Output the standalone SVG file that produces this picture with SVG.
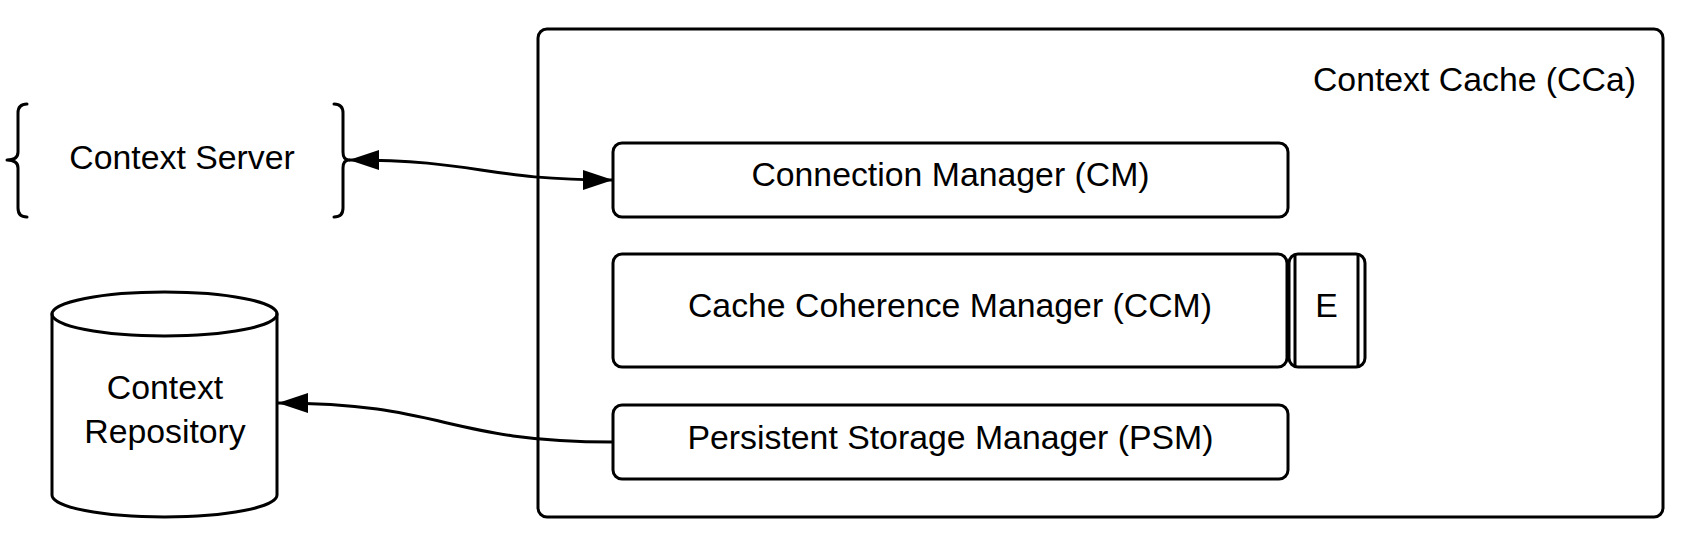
<svg xmlns="http://www.w3.org/2000/svg" width="1689" height="542" viewBox="0 0 1689 542">
<style>
.s{fill:#fff;stroke:#000;stroke-width:3;stroke-linejoin:round}
.n{fill:none;stroke:#000;stroke-width:3;stroke-linejoin:round;stroke-linecap:round}
.t{font-family:"Liberation Sans",Arial,sans-serif;font-size:33.8px;fill:#000}
.c{fill:none;stroke:#000;stroke-width:3}
</style>
<defs>
<marker id="ah" markerUnits="userSpaceOnUse" markerWidth="32" markerHeight="22" refX="30" refY="10" orient="auto-start-reverse" viewBox="0 0 32 22">
<path d="M0,0 L30,10 L0,20 Z" fill="#000"/>
</marker>
</defs>
<rect width="1689" height="542" fill="#fff"/>
<g id="context-cache">
<rect class="s" x="538" y="29" width="1125" height="488" rx="9"/>
<text class="t" x="1636" y="91" text-anchor="end">Context Cache (CCa)</text>
</g>
<g id="context-server">
<path class="n" d="M27,104 Q18,104 18,113 L18,152 Q18,160 7,160 Q18,160 18,168 L18,208 Q18,217 27,217"/>
<path class="n" d="M334,104 Q343,104 343,113 L343,152 Q343,160 349,160 Q343,160 343,168 L343,208 Q343,217 334,217"/>
<text class="t" x="182" y="169" text-anchor="middle">Context Server</text>
</g>
<g id="context-repository">
<path class="s" d="M52,314 L52,495 A112.5,22 0 0 0 277,495 L277,314 A112.5,22 0 0 0 52,314 Z"/>
<path class="n" d="M52,314 A112.5,22 0 0 0 277,314"/>
<text class="t" x="165" y="399" text-anchor="middle">Context</text>
<text class="t" x="165" y="443" text-anchor="middle">Repository</text>
</g>
<g id="cm">
<rect class="s" x="613" y="143" width="675" height="74" rx="9"/>
<text class="t" x="950.5" y="186" text-anchor="middle">Connection Manager (CM)</text>
</g>
<g id="ccm">
<rect class="s" x="613" y="254" width="674" height="113" rx="9"/>
<text class="t" x="950" y="317" text-anchor="middle">Cache Coherence Manager (CCM)</text>
</g>
<g id="e">
<rect class="s" x="1289" y="254" width="76" height="113" rx="9"/>
<line class="c" x1="1295" y1="254" x2="1295" y2="367"/>
<line class="c" x1="1358" y1="254" x2="1358" y2="367"/>
<text class="t" x="1326.5" y="317" text-anchor="middle">E</text>
</g>
<g id="psm">
<rect class="s" x="613" y="405" width="675" height="74" rx="9"/>
<text class="t" x="950.5" y="449" text-anchor="middle">Persistent Storage Manager (PSM)</text>
</g>
<g id="connectors">
<path class="c" d="M349,160 C481,160 481,180 613,180" marker-start="url(#ah)" marker-end="url(#ah)"/>
<path class="c" d="M613,442 C445,442 445,403 278,403" marker-end="url(#ah)"/>
</g>
</svg>
